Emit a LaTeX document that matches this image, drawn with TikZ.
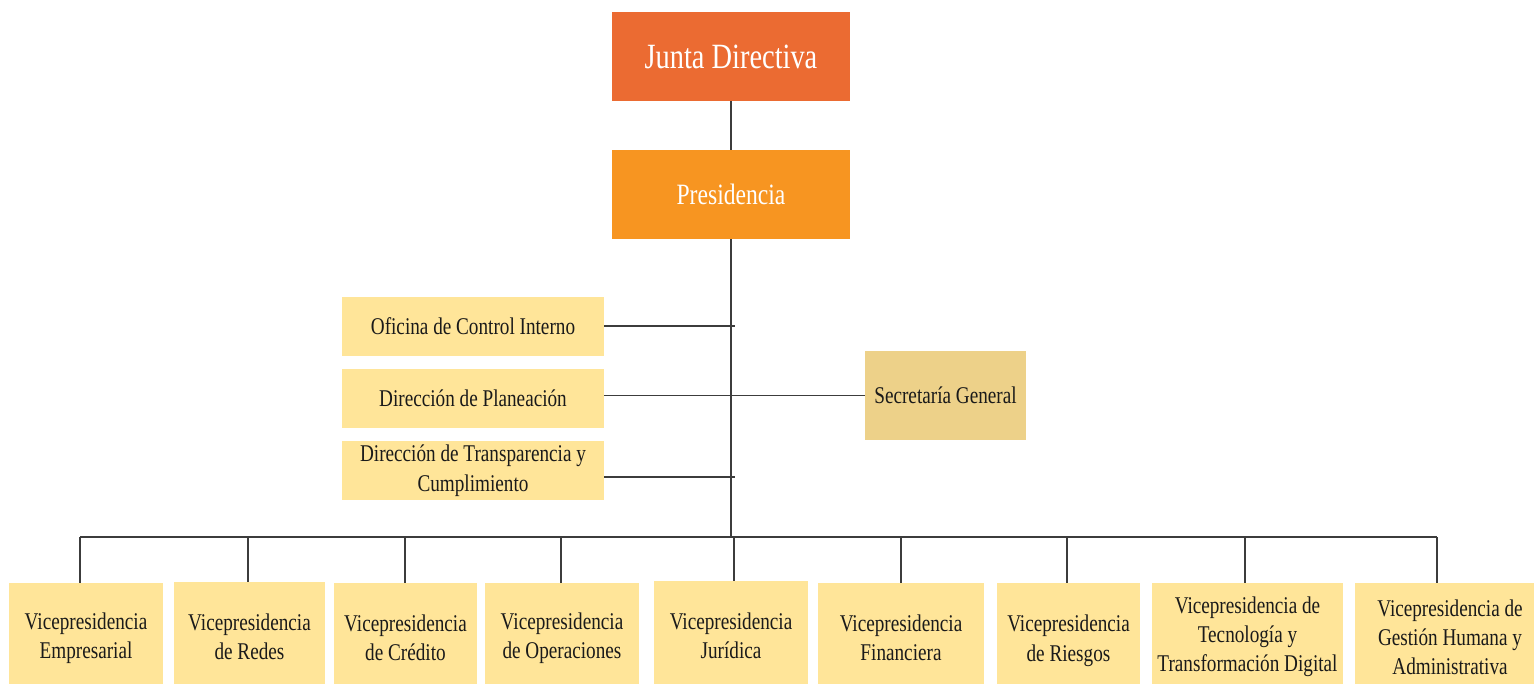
\documentclass[tikz,border=0pt]{standalone}
\usepackage{fontspec}
\setmainfont{Liberation Serif}[FakeStretch=0.8]
\definecolor{juntaC}{HTML}{EB6B32}
\definecolor{presC}{HTML}{F79521}
\definecolor{unitC}{HTML}{FFE599}
\definecolor{secC}{HTML}{EDD189}
\definecolor{inkC}{HTML}{1A1A1A}
\definecolor{lineC}{HTML}{3C3C3C}
\begin{document}
\begin{tikzpicture}[x=1pt,y=-1pt,
  base/.style={inner sep=0pt, outer sep=0pt, align=center},
  headbox/.style={base, text=white, minimum width=238pt, minimum height=89pt},
  unit/.style={base, fill=unitC, text=inkC, font=\fontsize{24}{29.5}\selectfont},
  link/.style={draw=lineC, line width=1.4pt}]
\useasboundingbox (0,0) rectangle (1534,683);

% top of the hierarchy
\node[headbox, fill=juntaC, font=\fontsize{35.5}{40}\selectfont] (junta) at (731,56.5) {Junta Directiva};
\node[headbox, fill=presC, font=\fontsize{29.5}{34}\selectfont] (pres) at (731,194.5) {Presidencia};

% advisory offices
\node[unit, minimum width=262pt, minimum height=59pt] (oci) at (473,326.5) {Oficina de Control Interno};
\node[unit, minimum width=262pt, minimum height=59pt] (dp) at (473,398.5) {Dirección de Planeación};
\node[unit, minimum width=262pt, minimum height=59pt] (dtc) at (473,470.5) {Dirección de Transparencia y\\Cumplimiento};
\node[unit, fill=secC, minimum width=161pt, minimum height=89pt] (sg) at (945.5,395.5) {Secretaría General};

% vice-presidencies (boxes run past the lower edge)
\node[unit, minimum width=154pt, minimum height=110pt] (v1) at (86,638) {Vicepresidencia\\Empresarial};
\node[unit, minimum width=151pt, minimum height=110pt] (v2) at (249.5,637) {Vicepresidencia\\de Redes};
\node[unit, minimum width=143pt, minimum height=110pt] (v3) at (405.5,638) {Vicepresidencia\\de Crédito};
\node[unit, minimum width=154pt, minimum height=110pt] (v4) at (562,638) {Vicepresidencia\\de Operaciones};
\node[unit, minimum width=154pt, minimum height=110pt] (v5) at (731,636) {Vicepresidencia\\Jurídica};
\node[unit, minimum width=166pt, minimum height=110pt] (v6) at (901,638) {Vicepresidencia\\Financiera};
\node[unit, minimum width=143pt, minimum height=116pt] (v7) at (1068.5,641) {Vicepresidencia\\de Riesgos};
\node[unit, minimum width=191pt, minimum height=108pt, font=\fontsize{24}{29}\selectfont] (v8) at (1247.5,637) {Vicepresidencia de\\Tecnología y\\Transformación Digital};
\node[unit, minimum width=190pt, minimum height=108pt, font=\fontsize{24}{29}\selectfont] (v9) at (1450,637) {Vicepresidencia de\\Gestión Humana y\\Administrativa};

% junction points
\coordinate (t1) at (735,326);
\coordinate (t3) at (735,477);
\coordinate (d1) at (80,537);
\coordinate (d2) at (248,537);
\coordinate (d3) at (405,537);
\coordinate (d4) at (561,537);
\coordinate (d5) at (734,537);
\coordinate (d6) at (901,537);
\coordinate (d7) at (1067,537);
\coordinate (d8) at (1245,537);
\coordinate (d9) at (1437,537);

% connectors
\draw[link] (junta.south) -- (pres.north);
\draw[link] (pres.south) -- (pres.south |- d1);
\draw[link] (oci.east |- t1) -- (t1);
\draw[link] (sg.west -| dp.east) -- (sg.west);
\draw[link] (dtc.east |- t3) -- (t3);
\draw[link] (d1) -- (d9);
\foreach \i in {1,...,9} {
  \draw[link] (d\i) -- (d\i |- v\i.north);
}
\end{tikzpicture}
\end{document}
